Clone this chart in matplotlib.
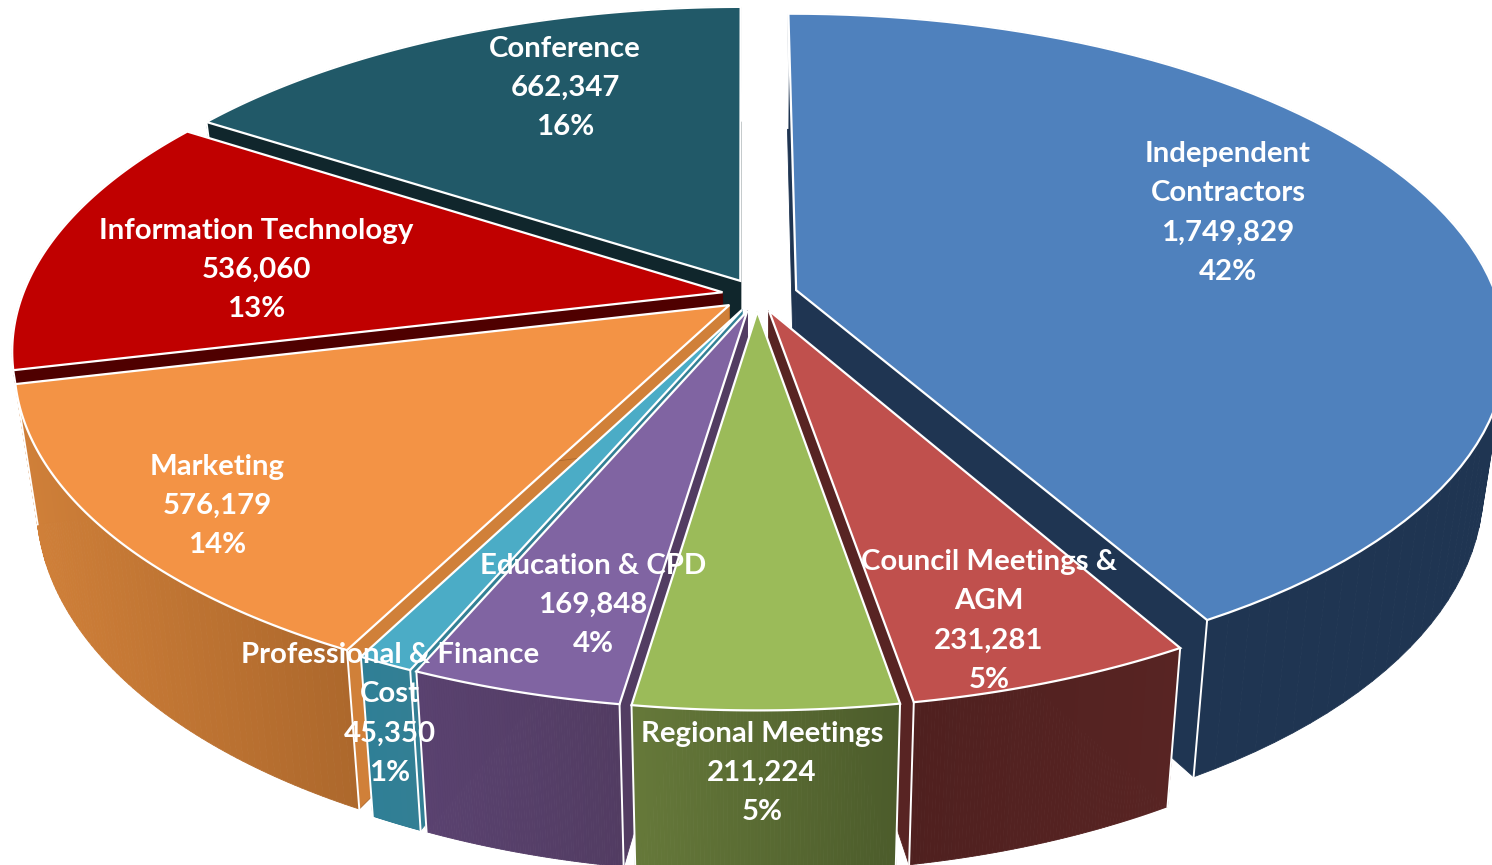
import numpy as np
import matplotlib
matplotlib.use('Agg')
import matplotlib.pyplot as plt
from matplotlib.patches import Polygon

names = ['Independent\nContractors', 'Council Meetings &\nAGM', 'Regional Meetings', 'Education & CPD',
         'Professional & Finance\nCost', 'Marketing', 'Information Technology', 'Conference']
values = [1749829, 231281, 211224, 169848, 45350, 576179, 536060, 662347]
percents = ['42%', '5%', '5%', '4%', '1%', '14%', '13%', '16%']
top_colors = ['#4f81bd', '#c0504d', '#9bbb59', '#8064a2', '#4bacc6', '#f39345', '#c00000', '#215968']
wall_left = ['#1f3552', '#4f201f', '#66793a', '#5a4270', '#2f7f96', '#d08039', '#4f0000', '#10262c']
wall_right = ['#1f3552', '#582423', '#4c5c2b', '#523c62', '#337f94', '#ad682c', '#4f0000', '#10262c']
label_x = [1228, 989, 762, 593, 390, 217, 256, 565]
label_y = [213, 621, 773, 605, 714, 506, 270, 88]
explodes = [0.058, 0.05, 0.05, 0.05, 0.05, 0.05, 0.05, 0.05]

cx, cy = 757, 295
rx, ry = 700, 325
persp = 0.17
depth = 134
shrink = 0.97
start_angle = np.radians(-0.2)


def project(x, y, low=False):
    w = 1 + persp * y
    sx = rx * x / w
    sy = -ry * y / w
    if low:
        sx = sx * shrink
        sy = sy + depth / w
    return np.column_stack([cx + sx, cy + sy])


def mix(c1, c2, t):
    a = np.array(matplotlib.colors.to_rgb(c1))
    b = np.array(matplotlib.colors.to_rgb(c2))
    return a + (b - a) * t


fig = plt.figure(figsize=(14.92, 8.65), dpi=100)
ax = fig.add_axes([0, 0, 1, 1])
ax.set_xlim(0, 1492)
ax.set_ylim(865, 0)
ax.axis('off')

fractions = np.array(values) / sum(values)
edges = start_angle + np.concatenate([[0], np.cumsum(fractions)]) * 2 * np.pi
mids = (edges[:-1] + edges[1:]) / 2

# far slices first so the nearer ones cover them
order = np.argsort(-np.cos(mids))
z = 1
for i in order:
    t = np.linspace(edges[i], edges[i + 1], 80)
    ox = explodes[i] * np.sin(mids[i])
    oy = explodes[i] * np.cos(mids[i])
    ax_x = ox + np.sin(t)
    ax_y = oy + np.cos(t)
    rim_hi = project(ax_x, ax_y)
    rim_lo = project(ax_x, ax_y, low=True)
    apex_hi = project(np.array([ox]), np.array([oy]))
    apex_lo = project(np.array([ox]), np.array([oy]), low=True)

    # radial walls first, the outer wall stands in front of them
    for end in (0, -1):
        side = np.vstack([apex_hi, rim_hi[end], rim_lo[end], apex_lo])
        ax.add_patch(Polygon(side, closed=True, facecolor=wall_right[i] if i not in (2, 5) else wall_left[i],
                             edgecolor=wall_right[i], lw=0.6, zorder=z))

    # outer wall, strips give the gradient
    for k in range(len(t) - 1):
        strip = np.vstack([rim_hi[k:k + 2], rim_lo[k:k + 2][::-1]])
        frac = (rim_hi[k, 0] - rim_hi[:, 0].min()) / max(np.ptp(rim_hi[:, 0]), 1)
        col = mix(wall_left[i], wall_right[i], frac)
        ax.add_patch(Polygon(strip, closed=True, facecolor=col, edgecolor=col, lw=0.6, zorder=z + 1))
    for end in (0, -1):
        ax.plot([rim_hi[end, 0], rim_lo[end, 0]], [rim_hi[end, 1], rim_lo[end, 1]], color='white', lw=1.4,
                zorder=z + 1)

    top = np.vstack([apex_hi, rim_hi])
    ax.add_patch(Polygon(top, closed=True, facecolor=top_colors[i], edgecolor='white', lw=1.6, zorder=z + 2))
    z += 3

for i in range(len(names)):
    text = '%s\n%s\n%s' % (names[i], format(values[i], ','), percents[i])
    ax.text(label_x[i], label_y[i], text, color='white', ha='center', va='center', fontsize=21.2,
            family='Lato', weight='bold', linespacing=1.62, zorder=100)

fig.savefig('out.png', dpi=100)
